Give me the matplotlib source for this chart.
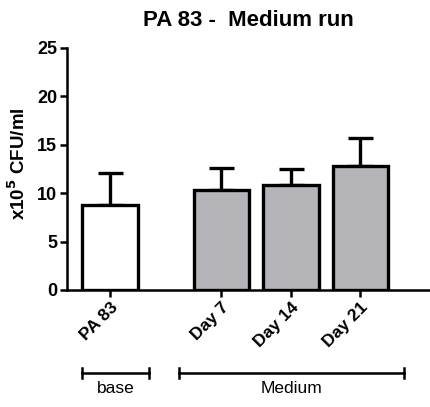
import matplotlib
matplotlib.use("Agg")
import matplotlib.pyplot as plt

plt.rcParams['font.family'] = ['Liberation Sans', 'DejaVu Sans']

categories = ["PA 83", "Day 7", "Day 14", "Day 21"]
positions = [0.0, 1.6, 2.6, 3.6]
means = [8.8, 10.35, 10.85, 12.8]
errors = [3.3, 2.25, 1.65, 2.95]
fills = ["white", "#b5b5b9", "#b5b5b9", "#b5b5b9"]
groups = ["base", "Medium"]

fig = plt.figure(figsize=(4.30, 4.07), dpi=100)
ax = fig.add_axes([67/430, 117/407, 363/430, 242/407])

ax.bar(positions, means, width=0.8, color=fills, edgecolor="black",
       linewidth=2.4, zorder=2)
ax.errorbar(positions, means, yerr=[[0]*len(means), errors], fmt="none",
            ecolor="black", elinewidth=2.4, capsize=9, capthick=2.4, zorder=1)

ax.set_xlim(-0.62, 4.6)
ax.set_ylim(0, 25)
ax.set_yticks([0, 5, 10, 15, 20, 25])
ax.set_xticks(positions)
ax.set_xticklabels(categories, rotation=45, ha="right", va="top",
                   rotation_mode="anchor", fontweight="bold", fontsize=12.5)
for lab in ax.get_yticklabels():
    lab.set_fontweight("bold")
    lab.set_fontsize(13)

ax.spines["top"].set_visible(False)
ax.spines["right"].set_visible(False)
ax.spines["left"].set_linewidth(1.8)
ax.spines["bottom"].set_linewidth(1.8)
ax.tick_params(axis="both", width=1.8, length=5, pad=2)

ax.set_ylabel("x10$^{\\mathbf{5}}$ CFU/ml", fontweight="bold", fontsize=13.5)
ax.yaxis.set_label_coords(-0.105, 0.52)
ax.set_title("PA 83 -  Medium run", fontweight="bold", fontsize=16, pad=16)

# group brackets below the tick labels
trans = ax.get_xaxis_transform()
spans = [(-0.4, 0.56), (0.99, 4.22)]
for name, (x0, x1) in zip(groups, spans):
    y = -0.343
    ax.plot([x0, x1], [y, y], color="black", lw=1.8, transform=trans,
            clip_on=False)
    for xe in (x0, x1):
        ax.plot([xe, xe], [y - 0.022, y + 0.022], color="black", lw=1.8,
                transform=trans, clip_on=False)
    ax.text((x0 + x1) / 2, y - 0.035, name, ha="center", va="top",
            fontsize=12.5, transform=trans)

fig.savefig("out.png", dpi=100)
